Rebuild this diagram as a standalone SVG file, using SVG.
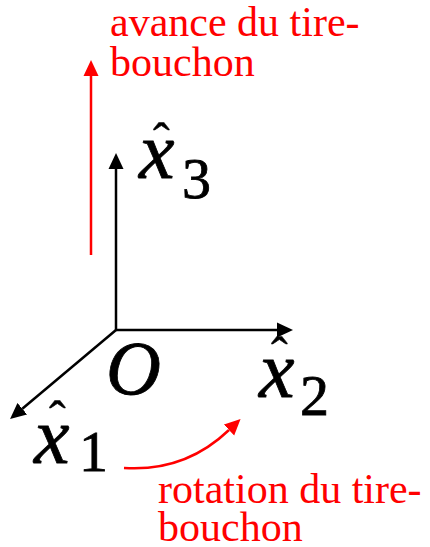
<svg xmlns="http://www.w3.org/2000/svg" width="430" height="547" viewBox="0 0 430 547">
  <style>
    .ax { stroke: #000; stroke-width: 2.5; fill: none; }
    .rd { stroke: #ff0000; stroke-width: 2.5; fill: none; }
    .red { fill: #ff0000; font-family: "Liberation Serif", "Times New Roman", serif; font-size: 42px; }
    .math { fill: #000; stroke: #000; stroke-width: 0.8; font-family: "Liberation Serif", "Times New Roman", serif; }
    .mx { font-style: italic; font-size: 80px; }
    .sub { font-style: normal; font-size: 58px; }
    .hat { font-style: normal; font-size: 50px; stroke-width: 0.4; }
  </style>
  <defs>
    <marker id="ah-black" markerUnits="userSpaceOnUse" markerWidth="16" markerHeight="16" viewBox="0 0 16 16" refX="0" refY="8" orient="auto">
      <path d="M0,0.5 L16,8 L0,15.5 z" fill="#000"/>
    </marker>
    <marker id="ah-red" markerUnits="userSpaceOnUse" markerWidth="16" markerHeight="16" viewBox="0 0 16 16" refX="0" refY="8" orient="auto">
      <path d="M0,0.5 L16,8 L0,15.5 z" fill="#ff0000"/>
    </marker>
  </defs>

  <g id="connectors">
    <line class="ax" x1="116" y1="330" x2="116" y2="169" marker-end="url(#ah-black)"/>
    <line class="ax" x1="116" y1="330" x2="277" y2="330" marker-end="url(#ah-black)"/>
    <line class="ax" x1="116" y1="330" x2="22.3" y2="408.7" marker-end="url(#ah-black)"/>
    <line class="rd" x1="91" y1="255" x2="91" y2="76" marker-end="url(#ah-red)"/>
    <path class="rd" d="M124,468 Q185,472 229,430" marker-end="url(#ah-red)"/>
  </g>

  <g id="label-avance">
    <text class="red" x="110" y="36">avance du tire-</text>
    <text class="red" x="110" y="76">bouchon</text>
  </g>

  <g id="label-rotation">
    <text class="red" x="158" y="503">rotation du tire-</text>
    <text class="red" x="158" y="541">bouchon</text>
  </g>

  <g id="origin">
    <text class="math mx" x="106" y="394" style="font-size:76px">O</text>
  </g>

  <g id="x3">
    <text class="math"><tspan class="hat" x="153" y="158">ˆ</tspan><tspan class="mx" x="139" y="178">x</tspan><tspan class="sub" x="182" y="198">3</tspan></text>
  </g>

  <g id="x2">
    <text class="math"><tspan class="hat" x="271" y="372">ˆ</tspan><tspan class="mx" x="259" y="397">x</tspan><tspan class="sub" x="300" y="415">2</tspan></text>
  </g>

  <g id="x1">
    <text class="math"><tspan class="hat" x="49" y="436">ˆ</tspan><tspan class="mx" x="34" y="463">x</tspan><tspan class="sub" x="79" y="471">1</tspan></text>
  </g>
</svg>
